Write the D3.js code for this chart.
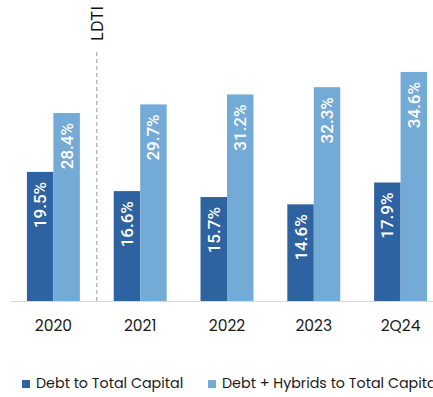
<!DOCTYPE html>
<html>
<head>
<meta charset="utf-8">
<script src="https://cdn.jsdelivr.net/npm/d3@7"></script>
<style>
  html, body { margin: 0; padding: 0; background: #fff; }
  svg { display: block; font-family: "Poppins", Inter, "Open Sans", sans-serif; }
</style>
</head>
<body>
<svg id="chart" width="433" height="397"></svg>
<script>
// Capital structure ratios by period
const periods = ["2020", "2021", "2022", "2023", "2Q24"];
const debtToCapital = [19.5, 16.6, 15.7, 14.6, 17.9];
const debtHybridsToCapital = [28.4, 29.7, 31.2, 32.3, 34.6];
const seriesNames = ["Debt to Total Capital", "Debt + Hybrids to Total Capital"];
const seriesColors = ["#2e62a0", "#74aad6"];

const svg = d3.select("#chart");
const baseY = 301;

const x = d3.scaleBand().domain(periods).range([10, 444]).paddingInner(0.39).paddingOuter(0.195);
const sub = d3.scaleBand().domain([0, 1]).range([0, x.bandwidth()]);
const y = d3.scaleLinear().domain([0, 35]).range([baseY, baseY - 35 * 6.62]);

const rows = periods.map((p, i) => ({ p, vals: [debtToCapital[i], debtHybridsToCapital[i]] }));

// Baseline
svg.append("line")
  .attr("x1", 10).attr("x2", 433)
  .attr("y1", baseY + 0.5).attr("y2", baseY + 0.5)
  .attr("stroke", "#d9d9d9").attr("stroke-width", 1.2);

// LDTI marker between 2020 and 2021
const ldtiX = (x("2020") + x.bandwidth() + x("2021")) / 2;
svg.append("line")
  .attr("x1", ldtiX).attr("x2", ldtiX)
  .attr("y1", 52).attr("y2", baseY)
  .attr("stroke", "#9a9a9a").attr("stroke-width", 1)
  .attr("stroke-dasharray", "4,3");
svg.append("text")
  .attr("transform", `translate(${ldtiX + 6},41) rotate(-90)`)
  .attr("font-size", 16).attr("fill", "#111")
  .attr("font-family", "Inter, sans-serif")
  .text("LDTI");

const groups = svg.selectAll("g.period").data(rows).join("g")
  .attr("class", "period")
  .attr("transform", d => `translate(${x(d.p)},0)`);

groups.selectAll("rect").data(d => d.vals).join("rect")
  .attr("x", (v, j) => sub(j))
  .attr("width", sub.bandwidth())
  .attr("y", v => y(v))
  .attr("height", v => baseY - y(v))
  .attr("fill", (v, j) => seriesColors[j]);

groups.selectAll("text.val").data(d => d.vals).join("text")
  .attr("class", "val")
  .attr("transform", (v, j) => `translate(${sub(j) + sub.bandwidth() / 2 + 6},${y(v) + 10}) rotate(-90)`)
  .attr("text-anchor", "end")
  .attr("font-family", "Roboto, sans-serif")
  .attr("font-size", 17).attr("font-weight", 500)
  .attr("fill", "#fff")
  .text(v => v.toFixed(1) + "%");

// Category labels
svg.append("g").selectAll("text").data(periods).join("text")
  .attr("x", d => x(d) + x.bandwidth() / 2)
  .attr("y", 331)
  .attr("text-anchor", "middle")
  .attr("font-size", 15.5).attr("fill", "#1a1a1a")
  .text(d => d);

// Legend
const legendX = [22, 208];
const lg = svg.append("g").selectAll("g").data(seriesNames).join("g")
  .attr("transform", (d, i) => `translate(${legendX[i]},383)`);
lg.append("rect").attr("x", 0).attr("y", -3).attr("width", 8).attr("height", 8)
  .attr("fill", (d, i) => seriesColors[i]);
lg.append("text").attr("x", 14).attr("y", 5)
  .attr("font-size", 14.3).attr("fill", "#1a1a1a")
  .text(d => d);
</script>
</body>
</html>
